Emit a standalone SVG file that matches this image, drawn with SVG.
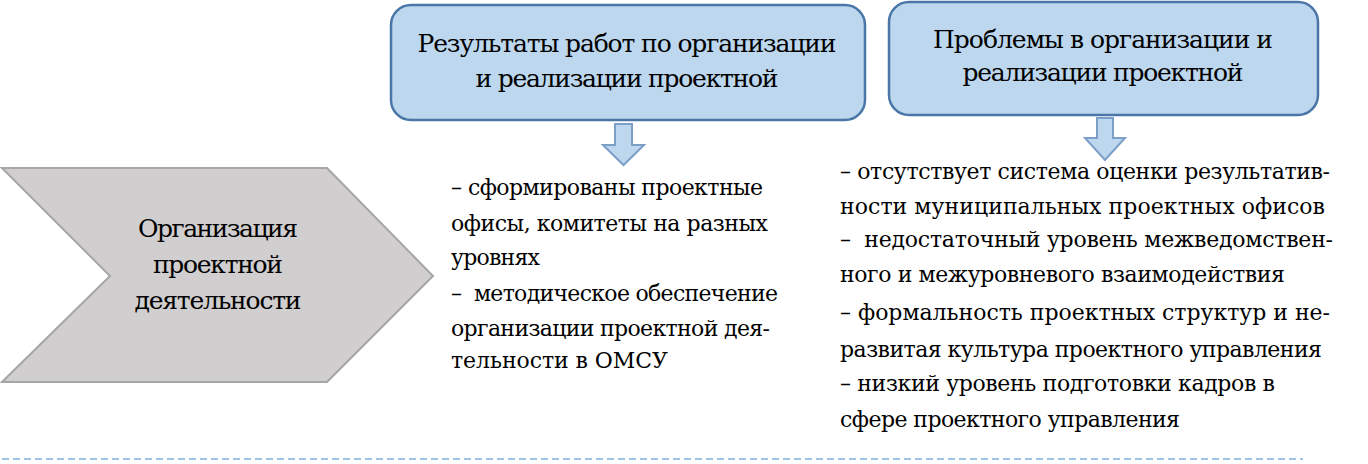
<svg xmlns="http://www.w3.org/2000/svg" width="1368" height="464" viewBox="0 0 1368 464">
<style>
.box{fill:#bdd7ee;stroke:#4a76a8;stroke-width:2.5}
.arr{fill:#bdd7ee;stroke:#7c9fc8;stroke-width:2}
</style>
<rect width="1368" height="464" fill="#fff"/>
<g id="chevron">
<polygon points="2,168 327,168 433,276 327,382 2,382 110,276" fill="#d0cece" stroke="#a6a6a6" stroke-width="2"/>
<text font-family="DejaVu Serif" font-size="25" text-anchor="middle" x="218" y="237" textLength="160">Организация</text>
<text font-family="DejaVu Serif" font-size="25" text-anchor="middle" x="218" y="273" textLength="130">проектной</text>
<text font-family="DejaVu Serif" font-size="25" text-anchor="middle" x="218" y="309" textLength="167">деятельности</text>
</g>
<g id="results-box">
<rect class="box" x="391" y="5" width="474" height="115" rx="20"/>
<text font-family="DejaVu Serif" font-size="25" text-anchor="middle" x="627" y="52" textLength="419">Результаты работ по организации</text>
<text font-family="DejaVu Serif" font-size="25" text-anchor="middle" x="627" y="87" textLength="303">и реализации проектной</text>
</g>
<g id="problems-box">
<rect class="box" x="889" y="2" width="429" height="113" rx="20"/>
<text font-family="DejaVu Serif" font-size="25" text-anchor="middle" x="1103" y="48" textLength="340">Проблемы в организации и</text>
<text font-family="DejaVu Serif" font-size="25" text-anchor="middle" x="1103" y="81" textLength="281">реализации проектной</text>
</g>
<g id="connectors">
<polygon class="arr" points="615,124 632,124 632,145 644,145 623.5,165 603,145 615,145"/>
<polygon class="arr" points="1097,118 1113,118 1113,138 1125,138 1105,160 1085,138 1097,138"/>
<line x1="2" y1="459" x2="1303" y2="459" stroke="#9dc3e6" stroke-width="2" stroke-dasharray="7,4"/>
</g>
<g id="results-text">
<text font-family="DejaVu Serif" font-size="22" x="451" y="195" textLength="312">– сформированы проектные</text>
<text font-family="DejaVu Serif" font-size="22" x="451" y="231" textLength="317">офисы, комитеты на разных</text>
<text font-family="DejaVu Serif" font-size="22" x="451" y="265" textLength="89">уровнях</text>
<text font-family="DejaVu Serif" font-size="22" x="451" y="301" textLength="327" xml:space="preserve">–  методическое обеспечение</text>
<text font-family="DejaVu Serif" font-size="22" x="451" y="336" textLength="319">организации проектной дея-</text>
<text font-family="DejaVu Serif" font-size="22" x="451" y="368" textLength="217">тельности в ОМСУ</text>
</g>
<g id="problems-text">
<text font-family="DejaVu Serif" font-size="22" x="840" y="179" textLength="490">– отсутствует система оценки результатив-</text>
<text font-family="DejaVu Serif" font-size="22" x="840" y="214" textLength="485">ности муниципальных проектных офисов</text>
<text font-family="DejaVu Serif" font-size="22" x="840" y="247" textLength="493" xml:space="preserve">–  недостаточный уровень межведомствен-</text>
<text font-family="DejaVu Serif" font-size="22" x="840" y="282" textLength="445">ного и межуровневого взаимодействия</text>
<text font-family="DejaVu Serif" font-size="22" x="840" y="320" textLength="490">– формальность проектных структур и не-</text>
<text font-family="DejaVu Serif" font-size="22" x="840" y="357" textLength="482">развитая культура проектного управления</text>
<text font-family="DejaVu Serif" font-size="22" x="840" y="391" textLength="435">– низкий уровень подготовки кадров в</text>
<text font-family="DejaVu Serif" font-size="22" x="840" y="427" textLength="340">сфере проектного управления</text>
</g>
</svg>
